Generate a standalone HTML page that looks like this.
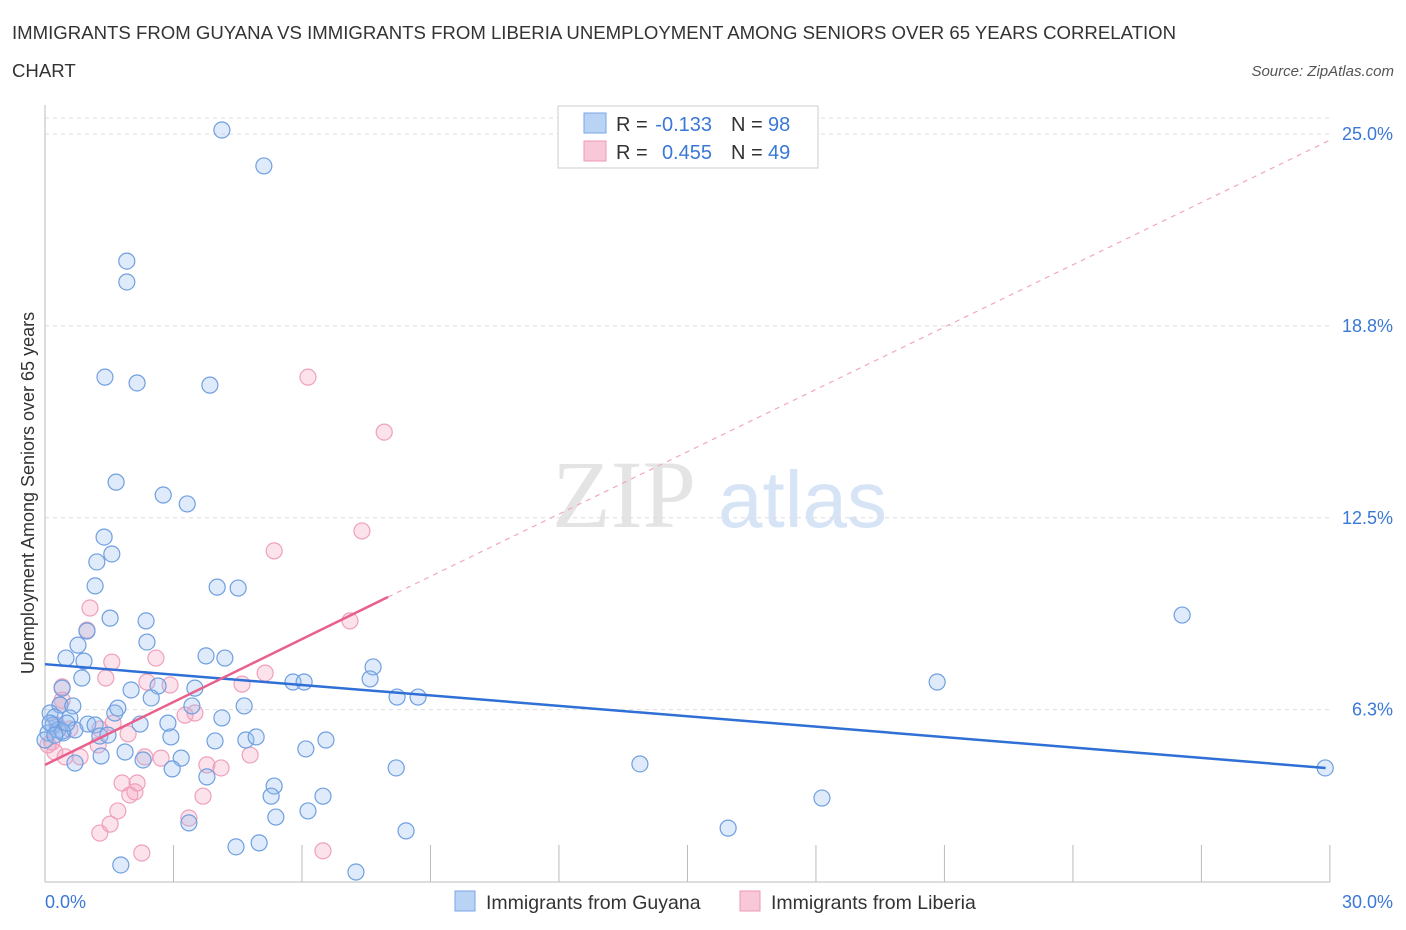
<!DOCTYPE html>
<html><head><meta charset="utf-8">
<style>
body{margin:0;background:#fff;width:1406px;height:930px;overflow:hidden;font-family:"Liberation Sans",sans-serif;}
svg{position:absolute;left:0;top:0}
</style></head>
<body>
<svg id="chart" width="1406" height="930" xmlns="http://www.w3.org/2000/svg">
<text x="12" y="39" font-size="18.6" fill="#333">IMMIGRANTS FROM GUYANA VS IMMIGRANTS FROM LIBERIA UNEMPLOYMENT AMONG SENIORS OVER 65 YEARS CORRELATION</text>
<text x="12" y="77" font-size="18.6" fill="#333">CHART</text>
<text x="1394" y="76" font-size="15" fill="#555" text-anchor="end" font-style="italic">Source: ZipAtlas.com</text>
<text x="552" y="527" font-size="96" fill="#e4e4e4" font-family="Liberation Serif,serif">ZIP</text>
<text x="718" y="527" font-size="80" fill="#d6e4f6">atlas</text>
<text transform="translate(34,493) rotate(-90)" font-size="18" fill="#333" text-anchor="middle">Unemployment Among Seniors over 65 years</text>
<g id="grid"></g><g id="axes"></g><g id="pts"></g><g id="trends"></g>
<g font-size="20">
<rect x="558" y="106" width="260" height="62" fill="#fff" stroke="#ccc"/>
<rect x="584" y="113" width="22" height="20" fill="#b9d3f5" stroke="#7aa6e4"/>
<text x="616" y="131" fill="#333">R =</text>
<text x="712" y="131" fill="#3a78d8" text-anchor="end">-0.133</text>
<text x="731" y="131" fill="#333">N =</text>
<text x="768" y="131" fill="#3a78d8">98</text>
<rect x="584" y="141" width="22" height="20" fill="#f8c8d8" stroke="#ec9ab8"/>
<text x="616" y="159" fill="#333">R =</text>
<text x="712" y="159" fill="#3a78d8" text-anchor="end">0.455</text>
<text x="731" y="159" fill="#333">N =</text>
<text x="768" y="159" fill="#3a78d8">49</text>
</g>
<g>
<rect x="455" y="891" width="20" height="20" fill="#b9d3f5" stroke="#7aa6e4"/>
<text x="486" y="909" font-size="19.5" fill="#333">Immigrants from Guyana</text>
<rect x="740" y="891" width="20" height="20" fill="#f8c8d8" stroke="#ec9ab8"/>
<text x="771" y="909" font-size="19.5" fill="#333">Immigrants from Liberia</text>
</g>
</svg>
<script>
const xTickLabels=["0.0%","30.0%"];
const yTicks=[6.25,12.5,18.75,25];
const yTickLabels=["6.3%","12.5%","18.8%","25.0%"];
const guyanaX=[4.13,5.11,1.91,1.91,1.40,2.15,3.85,1.66,2.76,3.32,1.38,1.56,1.21,1.17,4.02,4.51,1.52,2.36,0.98,2.38,0.77,0.49,0.91,3.76,4.20,7.66,0.86,5.79,6.05,7.59,20.83,26.55,2.01,2.64,3.50,8.22,8.71,0.40,0.35,0.65,0.12,0.23,0.58,1.00,1.17,1.63,1.70,3.43,4.65,2.48,4.13,0.19,0.30,0.07,0.42,0.70,1.28,1.47,2.22,2.87,2.94,3.97,4.69,4.93,6.56,6.09,1.87,1.31,3.18,2.29,0.70,2.97,3.78,13.89,8.20,29.89,5.35,5.28,6.49,18.14,3.36,5.39,6.14,8.43,15.95,4.46,5.00,1.77,7.26,0.40,0.12,0.0,0.51,0.23];
const guyanaY=[25.13,23.96,20.86,20.18,17.08,16.89,16.82,13.66,13.24,12.95,11.87,11.32,11.06,10.28,10.24,10.21,9.23,9.14,8.81,8.45,8.35,7.93,7.83,8.00,7.93,7.64,7.28,7.15,7.15,7.25,7.15,9.33,6.89,7.02,6.95,6.66,6.66,6.95,6.40,6.37,6.14,6.01,5.98,5.78,5.75,6.14,6.30,6.37,6.37,6.63,5.98,5.75,5.59,5.49,5.49,5.59,5.39,5.42,5.78,5.81,5.36,5.23,5.26,5.36,5.26,4.97,4.87,4.74,4.67,4.61,4.51,4.32,4.06,4.48,4.35,4.35,3.76,3.43,3.43,3.37,2.56,2.75,2.95,2.30,2.39,1.78,1.91,1.19,0.96,5.55,5.81,5.26,5.81,5.42];
const liberiaX=[6.14,7.92,7.40,5.35,7.12,1.05,0.98,1.56,2.59,1.42,0.40,2.38,2.92,4.60,5.14,1.59,3.27,1.28,1.94,0.35,0.16,0.23,0.82,1.24,2.33,2.71,3.78,4.11,4.79,1.80,2.15,2.10,1.98,3.69,1.70,3.36,1.52,1.28,2.26,6.49,0.47,0.07,0.58,0.28,3.50,0.40];
const liberiaY=[17.08,15.29,12.07,11.42,9.14,9.56,8.84,7.80,7.93,7.28,6.99,7.15,7.05,7.08,7.44,5.81,6.07,5.62,5.46,6.40,5.19,4.87,4.71,5.10,4.71,4.67,4.45,4.35,4.77,3.86,3.86,3.57,3.47,3.43,2.95,2.72,2.52,2.23,1.58,1.65,4.71,5.10,5.62,5.75,6.14,6.56];
const blueTrend=[[0,7.73],[29.9,4.35]];
const pinkTrendSolid=[[0,4.45],[8.01,9.92]];
const pinkTrendDash=[[8.01,9.92],[30,24.8]];
const NS="http://www.w3.org/2000/svg";
const X=v=>45+v*42.83, Y=v=>901.5-v*30.7;
function mk(tag,attrs,parent){const e=document.createElementNS(NS,tag);for(const k in attrs)e.setAttribute(k,attrs[k]);parent.appendChild(e);return e;}
const grid=document.getElementById('grid'),axes=document.getElementById('axes'),pts=document.getElementById('pts'),tr=document.getElementById('trends');
let gl=mk('line',{x1:45,x2:1330,y1:118,y2:118,stroke:'#ddd','stroke-dasharray':'4,4'},grid);


yTicks.forEach((t,i)=>{
 const l=mk('line',{x1:45,x2:1330,y1:Y(t),y2:Y(t),stroke:'#ddd','stroke-dasharray':'4,4'},grid);
 
 
 const tx=mk('text',{x:1393,y:Y(t)+6,'font-size':18,fill:'#3a78d8','text-anchor':'end'},axes);
 tx.textContent=yTickLabels[i];
 
 
});
let ax=mk('line',{x1:45,x2:45,y1:105,y2:882,stroke:'#bbb'},axes);


let bx=mk('line',{x1:45,x2:1330,y1:882,y2:882,stroke:'#bbb'},axes);


for(let i=0;i<=10;i++){
 const tk=mk('line',{x1:X(i*3),x2:X(i*3),y1:845,y2:882,stroke:'#bbb'},axes);
 
 
}
const xl0=mk('text',{x:45,y:908,'font-size':18,fill:'#3a78d8'},axes);xl0.textContent=xTickLabels[0];


const xl1=mk('text',{x:1393,y:908,'font-size':18,fill:'#3a78d8','text-anchor':'end'},axes);xl1.textContent=xTickLabels[1];


liberiaX.forEach((x,i)=>{
 const c=mk('circle',{cx:X(x),cy:Y(liberiaY[i]),r:8,fill:'rgba(244,160,190,0.3)',stroke:'#eea0bc','stroke-width':1.2},pts);
 
 
});
guyanaX.forEach((x,i)=>{
 const c=mk('circle',{cx:X(x),cy:Y(guyanaY[i]),r:8,fill:'rgba(150,190,240,0.3)',stroke:'#6f9fe0','stroke-width':1.2},pts);
 
 
});
let t1=mk('line',{x1:X(blueTrend[0][0]),y1:Y(blueTrend[0][1]),x2:X(blueTrend[1][0]),y2:Y(blueTrend[1][1]),stroke:'#2f6fd6','stroke-width':2.5},tr);


let t2=mk('line',{x1:X(pinkTrendSolid[0][0]),y1:Y(pinkTrendSolid[0][1]),x2:X(pinkTrendSolid[1][0]),y2:Y(pinkTrendSolid[1][1]),stroke:'#e8608c','stroke-width':2.5},tr);


let t3=mk('line',{x1:X(pinkTrendDash[0][0]),y1:Y(pinkTrendDash[0][1]),x2:X(pinkTrendDash[1][0]),y2:Y(pinkTrendDash[1][1]),stroke:'#f0a8c0','stroke-width':1.2,'stroke-dasharray':'5,5'},tr);


</script>
</body></html>
